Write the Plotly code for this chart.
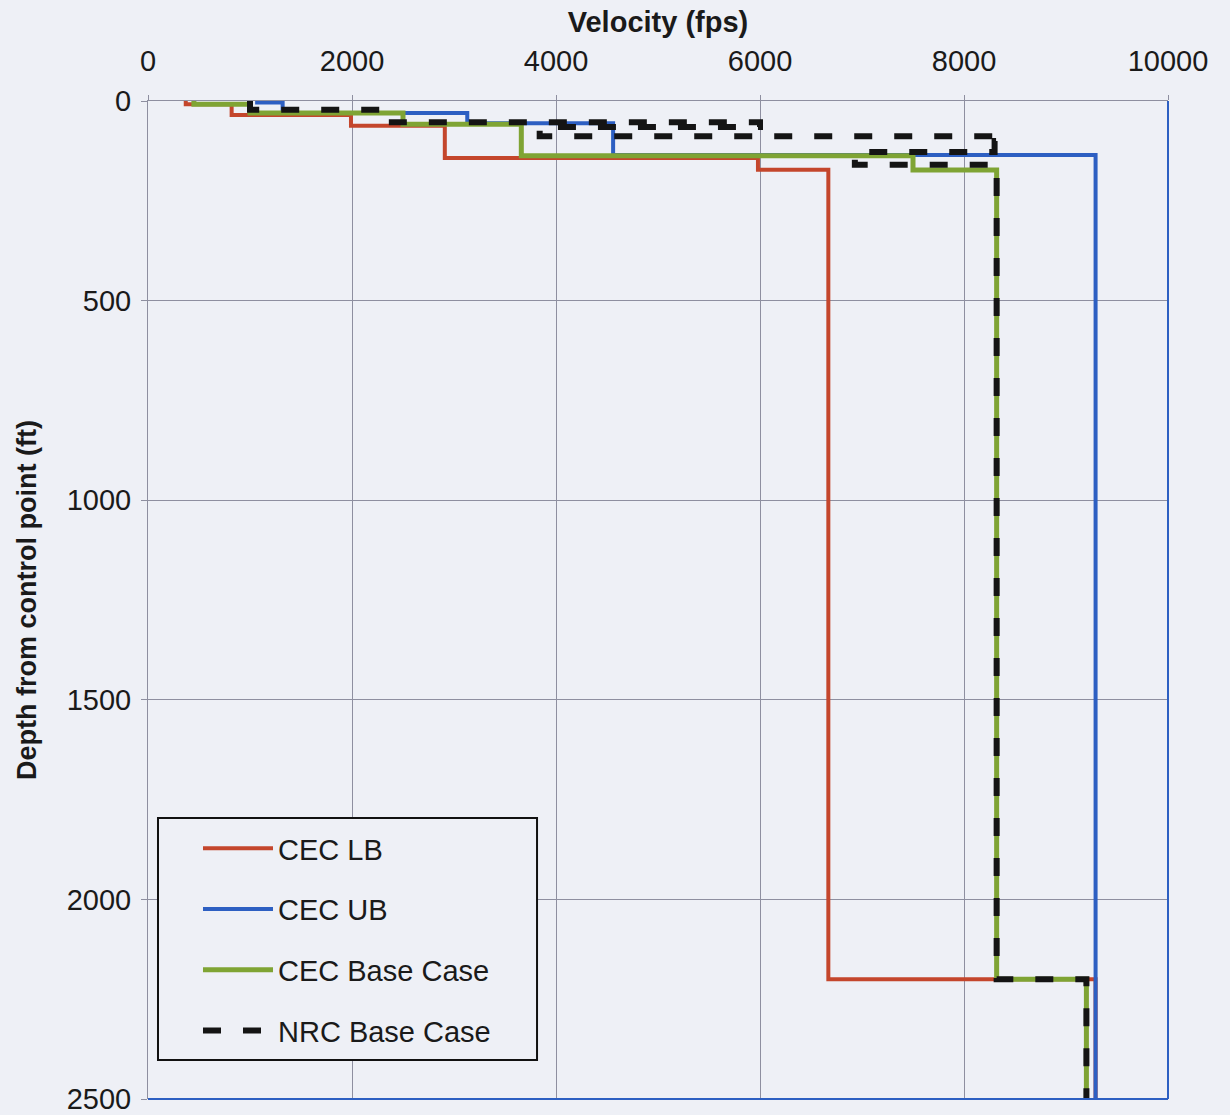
import plotly.graph_objects as go

# Layer-top depths (ft) and shear-wave velocities (fps); last entry closes the profile at 2500 ft
lb_depth = [0, 8, 35, 62, 143, 172, 2200, 2500]
lb_vel = [370, 820, 1990, 2910, 5980, 6670, 9290, 9290]

ub_depth = [0, 4, 30, 56, 135, 2500]
ub_vel = [1070, 1320, 3130, 4560, 9290, 9290]

base_depth = [0, 8, 30, 58, 137, 173, 2200, 2500]
base_vel = [450, 1000, 2500, 3660, 7500, 8320, 9200, 9200]

nrc_depth = [0, 22, 53, 65, 88, 100, 128, 160, 2200, 2500]
nrc_vel = [1000, 2300, 6000, 3840, 8380, 8300, 6930, 8320, 9200, 9200]

x_ticks = [0, 2000, 4000, 6000, 8000, 10000]
x_labels = ["0", "2000", "4000", "6000", "8000", "10000"]
y_ticks = [0, 500, 1000, 1500, 2000, 2500]
y_labels = ["0", "500", "1000", "1500", "2000", "2500"]

BG = "#eef0f6"
FONT = "Liberation Sans, Arial, sans-serif"

fig = go.Figure()

series = [
    ("CEC LB", lb_vel, lb_depth, dict(color="#c4462c", width=4)),
    ("CEC UB", ub_vel, ub_depth, dict(color="#2d5fc2", width=4)),
    ("CEC Base Case", base_vel, base_depth, dict(color="#7fa434", width=5)),
    ("NRC Base Case", nrc_vel, nrc_depth, dict(color="#141414", width=6, dash="18px,22px")),
]
for name, v, d, line in series:
    fig.add_trace(go.Scatter(
        x=v, y=d, mode="lines", name=name, legendgroup=name,
        line=dict(shape="vh", **line),
    ))

fig.update_layout(
    width=1230, height=1115,
    margin=dict(l=148, r=62, t=101, b=16, autoexpand=False),
    paper_bgcolor=BG, plot_bgcolor=BG,
    font=dict(family=FONT, size=29, color="#1a1a1a"),
    showlegend=True,
    legend=dict(
        x=0.0098, y=0.2766, xanchor="left", yanchor="top",
        bgcolor="rgba(0,0,0,0)", borderwidth=0,
        font=dict(size=29), tracegroupgap=20, itemwidth=70,
        traceorder="grouped", indentation=40,
    ),
    xaxis=dict(
        side="top", range=[0, 10000], tickvals=x_ticks, ticktext=x_labels,
        showgrid=True, gridcolor="#8e8fa0", gridwidth=1,
        showline=True, linecolor="#8e8fa0", linewidth=1,
        ticks="outside", ticklen=5, tickcolor="#8e8fa0",
        ticklabelstandoff=12, zeroline=False, ticklabeloverflow="allow",
        automargin=False,
        title=dict(text="<b>Velocity (fps)</b>", font=dict(size=29), standoff=4),
    ),
    yaxis=dict(
        range=[2500, 0], tickvals=y_ticks, ticktext=y_labels,
        showgrid=True, gridcolor="#8e8fa0", gridwidth=1,
        showline=True, linecolor="#8e8fa0", linewidth=1,
        ticks="outside", ticklen=6, tickcolor="#8e8fa0",
        ticklabelstandoff=4, zeroline=False, ticklabeloverflow="allow",
        automargin=False,
        title=dict(text="<b>Depth from control point (ft)</b>", font=dict(size=27), standoff=22),
    ),
)

# Legend frame, drawn over the data so the box hides gridlines and traces behind it
fig.add_shape(type="rect", xref="paper", yref="paper", layer="above",
              x0=0.0098, x1=0.3814, y0=0.0391, y1=0.2816,
              fillcolor=BG, line=dict(color="#111111", width=2))

# Right and bottom frame edges of the plotting area
fig.add_shape(type="line", xref="x domain", yref="y domain", x0=1, x1=1, y0=0, y1=1,
              line=dict(color="#2d5fc2", width=2))
fig.add_shape(type="line", xref="x domain", yref="y domain", x0=0, x1=1, y0=0, y1=0,
              line=dict(color="#2d5fc2", width=2))

fig.write_html("out.html")
